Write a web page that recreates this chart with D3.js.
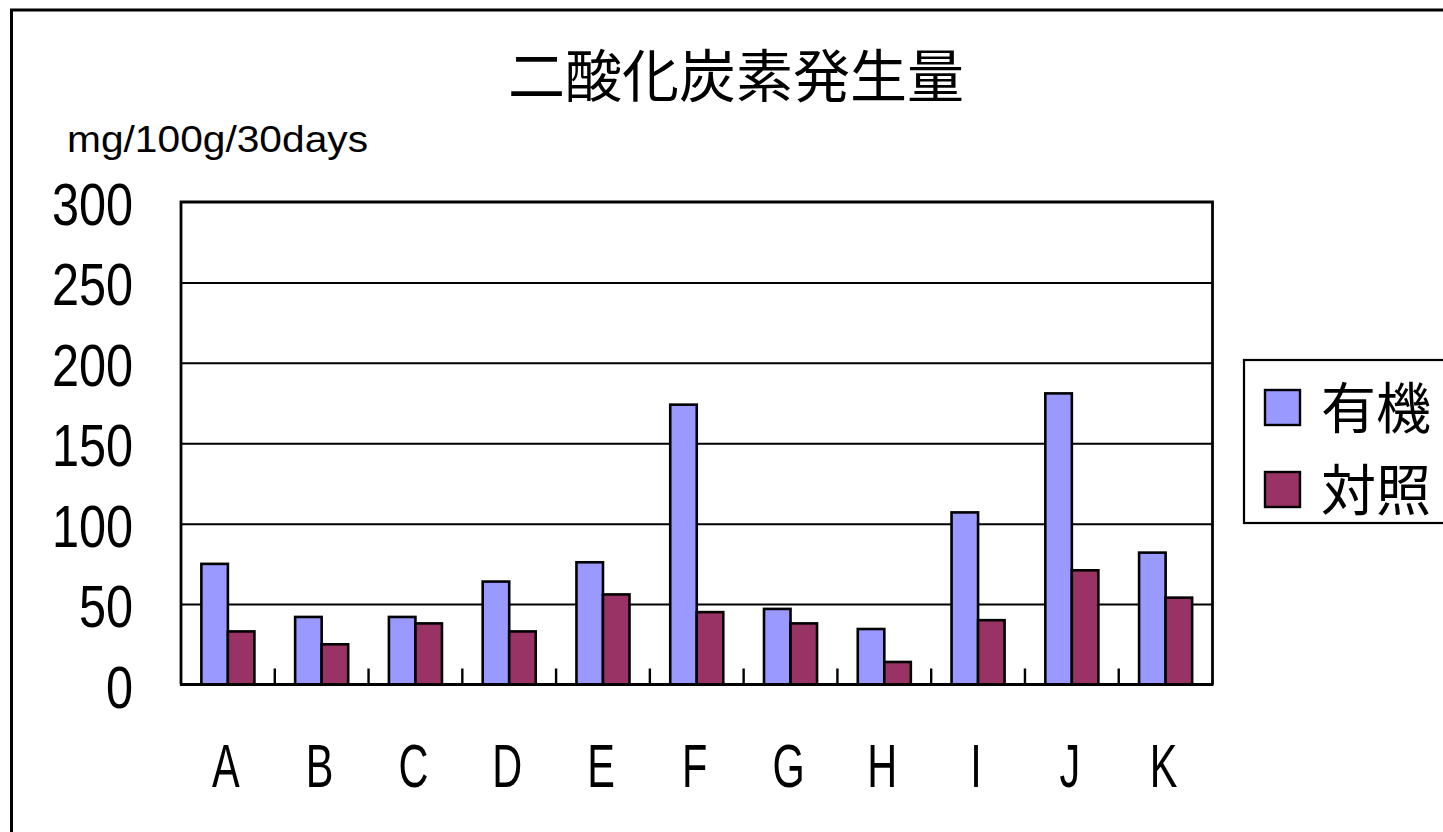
<!DOCTYPE html>
<html><head><meta charset="utf-8">
<script src="https://cdn.jsdelivr.net/npm/d3@7"></script>
<style>body{margin:0;background:#fff}</style>
</head><body><svg id="c" width="1443" height="832"></svg>
<script>
const categories = ["A","B","C","D","E","F","G","H","I","J","K"];
const seriesNames = ["有機","対照"];
const organic = [75,42,42,64,76,174,47,34.5,107,181,82];
const control = [33,25,38,33,56,45,38,14,40,71,54];
const yTicks = [0,50,100,150,200,250,300];
const colors = ["#9999FF","#993366"];
const title = "二酸化炭素発生量";
const unitLabel = "mg/100g/30days";

const svg = d3.select("#c");
const L = 181, R = 1212.5, T = 202, B = 684.5;

// outer frame
svg.append("rect").attr("x",11.5).attr("y",10).attr("width",1600).attr("height",1000)
  .attr("fill","#fff").attr("stroke","#000").attr("stroke-width",3);

const x = d3.scaleBand().domain(categories).range([L,R]).padding(0);
const xs = d3.scaleBand().domain([0,1]).range([0,x.bandwidth()]).paddingInner(0).paddingOuter(0.768);
const y = d3.scaleLinear().domain([0,300]).range([B,T]);

// gridlines
const grid = svg.append("g").attr("transform",`translate(${L},0)`)
  .call(d3.axisLeft(y).tickValues(yTicks.filter(v=>v>0&&v<300)).tickSize(-(R-L)).tickFormat(""));
grid.select(".domain").remove();
grid.selectAll("line").attr("stroke","#000").attr("stroke-width",2);

// bars
const rows = categories.map((c,i)=>({c, v:[organic[i],control[i]]}));
const gg = svg.append("g").selectAll("g").data(rows).join("g")
  .attr("transform",d=>`translate(${x(d.c)},0)`);
gg.selectAll("rect").data(d=>d.v.map((v,k)=>({v,k}))).join("rect")
  .attr("x",d=>xs(d.k)).attr("width",xs.bandwidth())
  .attr("y",d=>y(d.v)).attr("height",d=>B-y(d.v))
  .attr("fill",d=>colors[d.k]).attr("stroke","#000").attr("stroke-width",2.6);

// inner tick marks at category boundaries
svg.append("g").selectAll("line").data(categories.slice(1)).join("line")
  .attr("x1",d=>x(d)).attr("x2",d=>x(d)).attr("y1",B).attr("y2",B-16)
  .attr("stroke","#000").attr("stroke-width",2.4);

// plot border (top, right, left) and baseline
svg.append("path").attr("d",`M${L},${B}V${T}H${R}V${B}`).attr("fill","none")
  .attr("stroke","#000").attr("stroke-width",2.8);
svg.append("line").attr("x1",L-1).attr("x2",R+1).attr("y1",B).attr("y2",B)
  .attr("stroke","#000").attr("stroke-width",3);

// y axis labels
const ya = svg.append("g").attr("transform",`translate(${L},0)`)
  .call(d3.axisLeft(y).tickValues(yTicks).tickSize(0).tickFormat(d3.format("d")));
ya.select(".domain").remove();
ya.selectAll("text").attr("x",null).attr("dy",null)
  .attr("transform","translate(-48,22.5) scale(0.81,1)")
  .attr("text-anchor","end").attr("fill","#000")
  .style("font-family","'Liberation Sans',Arial,sans-serif").style("font-size","60px");

// x axis labels
const xa = svg.append("g").attr("transform",`translate(0,${B})`)
  .call(d3.axisBottom(x).tickSize(0));
xa.select(".domain").remove();
xa.selectAll("text").attr("y",null).attr("dy",null)
  .attr("transform","translate(-2,102) scale(0.68,1)")
  .attr("text-anchor","middle").attr("fill","#000")
  .style("font-family","'Liberation Sans',Arial,sans-serif").style("font-size","61px");

// title
svg.append("text").attr("x",736).attr("y",97).attr("text-anchor","middle")
  .style("font-family","'Noto Sans CJK JP',sans-serif").style("font-size","57px").text(title);

// unit label
svg.append("text").attr("x",67).attr("y",152).attr("textLength",301).attr("lengthAdjust","spacingAndGlyphs")
  .style("font-family","'Liberation Sans',Arial,sans-serif").style("font-size","37px").text(unitLabel);

// legend
const lg = svg.append("g");
lg.append("rect").attr("x",1244).attr("y",360).attr("width",260).attr("height",163)
  .attr("fill","#fff").attr("stroke","#000").attr("stroke-width",2.2);
const items = lg.selectAll("g").data(seriesNames).join("g")
  .attr("transform",(d,i)=>`translate(0,${i*82})`);
items.append("rect").attr("x",1265).attr("y",390).attr("width",35).attr("height",35)
  .attr("fill",(d,i)=>colors[i]).attr("stroke","#000").attr("stroke-width",2.4);
items.append("text").attr("x",1321).attr("y",428)
  .style("font-family","'Noto Sans CJK JP',sans-serif").style("font-size","55px").text(d=>d);
</script></body></html>
